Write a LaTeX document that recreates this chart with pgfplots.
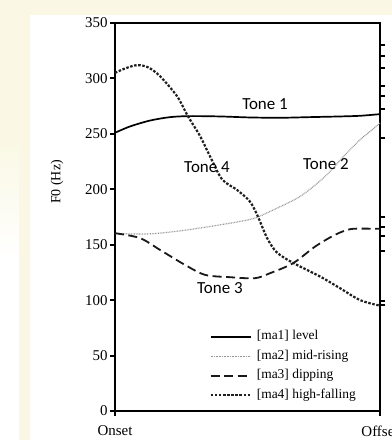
\documentclass[border=0pt]{standalone}
\usepackage{pgfplots}
\pgfplotsset{compat=1.18}
\usepackage{fontspec}
\setmainfont{Liberation Serif}
\newfontfamily\carlito{Carlito}
\definecolor{cream}{RGB}{250,248,228}

\pgfplotstableread{
t f
0 251
0.057 256.7
0.132 262
0.208 265.1
0.283 266
0.396 265.7
0.509 264.8
0.623 264.5
0.736 265.1
0.849 265.7
0.925 266.3
1 267.8
}\toneone

\pgfplotstableread{
t f
0 160
0.132 159.8
0.245 162.5
0.358 166.4
0.472 171
0.528 174
0.585 180
0.698 193.5
0.792 211.5
0.868 231
0.925 244.7
0.962 252
1 259.7
}\tonetwo

\pgfplotstableread{
t f
0 160.4
0.094 156
0.170 145.3
0.264 131.8
0.340 122.8
0.434 120.7
0.528 119.8
0.585 124.3
0.672 133.3
0.755 148.3
0.830 158.9
0.887 164
0.943 164.5
1 164.3
}\tonethree

\pgfplotstableread{
t f
0 305
0.038 309
0.083 312
0.125 310
0.170 302
0.234 284
0.275 266
0.321 248
0.358 230
0.404 209
0.460 199.5
0.509 189
0.540 175
0.574 156
0.611 143
0.672 133.6
0.774 121.3
0.849 110.8
0.925 100
1 95
}\tonefour

\begin{document}
\begin{tikzpicture}
\useasboundingbox (0bp,0bp) rectangle (392bp,440bp);
\clip (0bp,0bp) rectangle (392bp,440bp);
\fill[cream] (0bp,0bp) rectangle (392bp,440bp);
\fill[white] (0bp,0bp) rectangle (19bp,180bp);
\shade[top color=cream, bottom color=white] (0bp,180bp) rectangle (19bp,300bp);
\fill[white] (30bp,0bp) rectangle (392bp,425bp);

\begin{axis}[
  at={(115bp,29bp)}, anchor=south west,
  scale only axis, width=265bp, height=388bp,
  xmin=0, xmax=1, ymin=0, ymax=350,
  xtick={0,1}, xticklabels={Onset,Offset},
  ytick={0,50,...,350},
  xtick pos=bottom, ytick pos=left,
  tick align=outside,
  major tick length=5bp,
  axis line style={line width=2.8bp},
  every tick/.style={black, line width=2bp},
  /pgf/number format/assume math mode=true,
  yticklabel style={font=\fontsize{15}{16}\selectfont, xshift=1bp},
  xticklabel style={font=\fontsize{15}{16}\selectfont, yshift=-6bp},
  legend style={at={(axis cs:0.345,75.5)}, anchor=north west, draw=none, fill=none,
    font=\fontsize{13.5}{14}\selectfont, row sep=5bp, column sep=4bp,
    nodes={inner sep=1pt, text height=9.5bp, text depth=3bp}},
  legend cell align=left,
  legend image code/.code={\draw[#1] (0bp,0bp) -- (40bp,0bp);},
  clip=false,
]
\addplot[black, line width=1.7bp, smooth] table[x=t,y=f] {\toneone};
\addlegendentry{[ma1] level}
\addplot[gray!80, line width=1.2bp, dash pattern=on 0.8bp off 0.8bp, smooth] table[x=t,y=f] {\tonetwo};
\addlegendentry{[ma2] mid-rising}
\addplot[black!90, line width=1.8bp, dash pattern=on 9bp off 4.5bp, smooth] table[x=t,y=f] {\tonethree};
\addlegendentry{[ma3] dipping}
\addplot[black!88, line width=2.2bp, dash pattern=on 2.5bp off 1.6bp, smooth] table[x=t,y=f] {\tonefour};
\addlegendentry{[ma4] high-falling}

\node[font=\carlito\fontsize{17}{18}\selectfont] at (axis cs:0.566,277.2) {Tone 1};
\node[font=\carlito\fontsize{17}{18}\selectfont] at (axis cs:0.347,220.3) {Tone 4};
\node[font=\carlito\fontsize{17}{18}\selectfont] at (axis cs:0.796,223) {Tone 2};
\node[font=\carlito\fontsize{17}{18}\selectfont] at (axis cs:0.396,111) {Tone 3};
\end{axis}

\begin{axis}[
  at={(115bp,29bp)}, anchor=south west,
  scale only axis, width=265bp, height=388bp,
  xmin=0, xmax=1, ymin=0, ymax=350,
  hide x axis, axis y line*=right, axis line style={draw=none},
  ytick={330.4,320.5,309.4,292.8,284.4,272.4,246.2,175.1,165.8,158,144.4,99,95.9},
  yticklabels={},
  tick align=outside, major tick length=5bp,
  every tick/.style={black, line width=2bp},
]
\end{axis}

\node[rotate=90, font=\fontsize{14}{15}\selectfont] at (57bp,258bp) {F0 (Hz)};
\end{tikzpicture}
\end{document}
